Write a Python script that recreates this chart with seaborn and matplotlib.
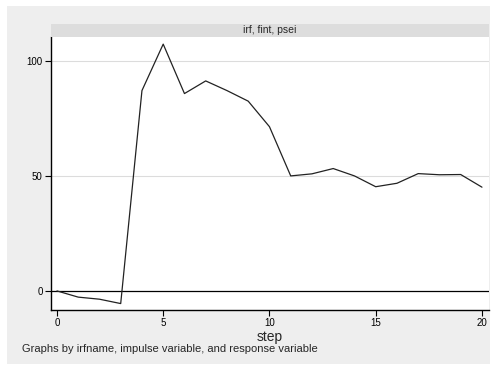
"""Impulse response plot: irf, fint, psei."""

import matplotlib
matplotlib.use('Agg')
import matplotlib.pyplot as plt
from matplotlib.patches import Rectangle
import seaborn as sns
import pandas as pd

# Data
steps = list(range(21))
irf_values = [0.0, -2.7, -3.6, -5.5, 87.1, 107.3, 85.8, 91.3, 87.1, 82.5,
              71.4, 50.0, 50.9, 53.2, 50.0, 45.3, 46.8, 51.0, 50.5, 50.6, 45.1]
x_ticks = [0, 5, 10, 15, 20]
y_ticks = [0, 50, 100]
panel_title = 'irf, fint, psei'
note = 'Graphs by irfname, impulse variable, and response variable'

sns.set_theme(style='white')
plt.rcParams['font.family'] = ['Liberation Sans', 'DejaVu Sans']

df = pd.DataFrame({'step': steps, 'irf': irf_values})

fig = plt.figure(figsize=(5.01, 3.68), dpi=100)
fig.patch.set_facecolor('white')
# light gray graph region inside a thin white border
fig.patches.append(Rectangle((0.014, 0.011), 0.964, 0.973, transform=fig.transFigure,
                             facecolor='#eeeeee', edgecolor='none', zorder=-10))

ax = fig.add_axes([0.1018, 0.1576, 0.8742, 0.7419])
ax.set_facecolor('white')

for v in y_ticks[1:]:
    ax.axhline(v, color='#dcdcdc', linewidth=0.8, zorder=1)
ax.axhline(0, color='black', linewidth=0.9, zorder=2)

sns.lineplot(data=df, x='step', y='irf', ax=ax, color='#222222', linewidth=0.9, zorder=3)

ax.set_xlim(-0.28, 20.33)
ax.set_ylim(-8.3, 110.4)
ax.set_xticks(x_ticks)
ax.set_yticks(y_ticks)
ax.tick_params(axis='both', direction='out', length=4, width=0.8, labelsize=7,
               colors='black', pad=2, left=True, bottom=True)
for side in ['top', 'right']:
    ax.spines[side].set_visible(False)
for side in ['left', 'bottom']:
    ax.spines[side].set_color('black')
    ax.spines[side].set_linewidth(1.0)
ax.set_xlabel('step', fontsize=10, labelpad=1)
ax.set_ylabel('')

# title strip above the panel
strip = fig.add_axes([0.1018, 0.8995, 0.8742, 0.0353])
strip.set_facecolor('#dddddd')
strip.set_xticks([])
strip.set_yticks([])
for s in strip.spines.values():
    s.set_visible(False)
strip.text(0.5, 0.5, panel_title, ha='center', va='center', fontsize=7.5,
           transform=strip.transAxes)

fig.text(0.044, 0.052, note, ha='left', va='center', fontsize=8)

fig.savefig('out.png', dpi=100)
plt.close(fig)
